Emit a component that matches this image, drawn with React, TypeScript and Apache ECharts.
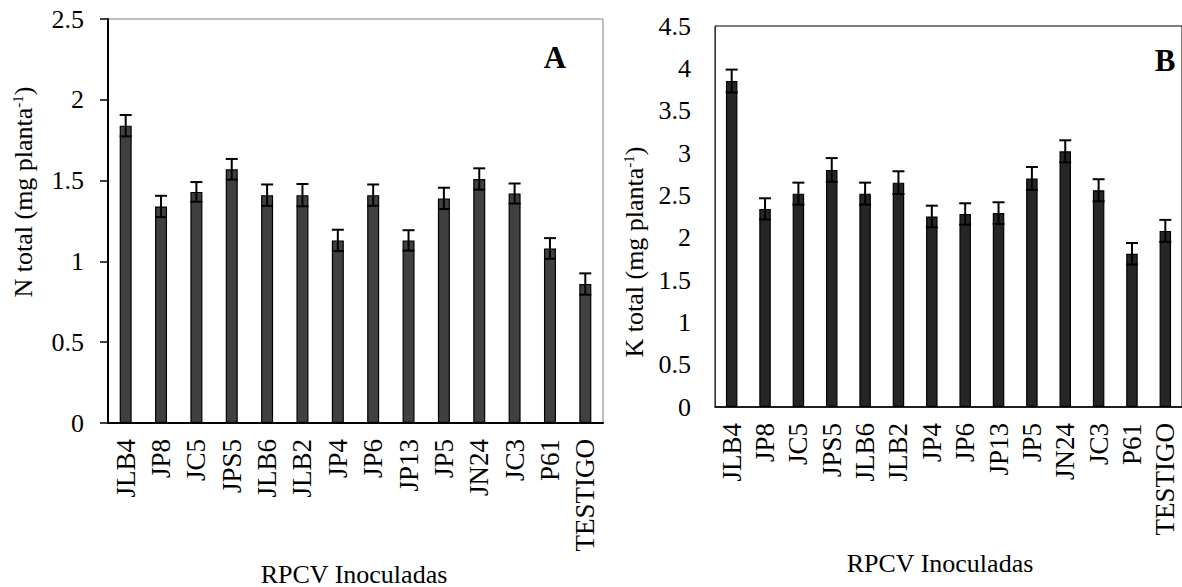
import React, { useEffect, useRef } from "react";
import * as echarts from "echarts";

const categories = ["JLB4", "JP8", "JC5", "JPS5", "JLB6", "JLB2", "JP4", "JP6", "JP13", "JP5", "JN24", "JC3", "P61", "TESTIGO"];
const nTotal = [1.84, 1.34, 1.43, 1.57, 1.41, 1.41, 1.13, 1.41, 1.13, 1.39, 1.51, 1.42, 1.08, 0.86];
const nErr = [0.066, 0.066, 0.061, 0.064, 0.066, 0.069, 0.066, 0.066, 0.063, 0.066, 0.066, 0.062, 0.064, 0.066];
const kTotal = [3.85, 2.34, 2.52, 2.8, 2.52, 2.65, 2.25, 2.28, 2.29, 2.7, 3.02, 2.56, 1.81, 2.08];
const kErr = [0.135, 0.125, 0.13, 0.14, 0.13, 0.134, 0.128, 0.126, 0.128, 0.135, 0.13, 0.13, 0.127, 0.13];

const FONT = "Liberation Serif";

function errRender(hw: number) {
  return (params: any, api: any) => {
    const x = api.value(0);
    const v = api.value(1);
    const e = api.value(2);
    const hi = api.coord([x, v + e]);
    const lo = api.coord([x, v - e]);
    const st = { stroke: "#000", lineWidth: 2 };
    return {
      type: "group",
      children: [
        { type: "line", shape: { x1: hi[0], y1: hi[1], x2: lo[0], y2: lo[1] }, style: st },
        { type: "line", shape: { x1: hi[0] - hw, y1: hi[1], x2: hi[0] + hw, y2: hi[1] }, style: st },
        { type: "line", shape: { x1: lo[0] - hw, y1: lo[1], x2: lo[0] + hw, y2: lo[1] }, style: st },
      ],
    };
  };
}

export default function App() {
  const ref = useRef<HTMLDivElement>(null);
  useEffect(() => {
    if (!ref.current) return;
    const chart = echarts.init(ref.current, null, { renderer: "svg" });
    const yLabel = { color: "#000", fontFamily: FONT, fontSize: 26 };
    const xLabel = { color: "#000", fontFamily: FONT, fontSize: 27, rotate: 90, interval: 0 };
    const titleRich = {
      a: { fontFamily: FONT, fontSize: 26, color: "#000" },
      s: { fontFamily: FONT, fontSize: 15, color: "#000", verticalAlign: "top", padding: [0, 0, 11, 0] },
    };
    chart.setOption({
      animation: false,
      textStyle: { fontFamily: FONT },
      grid: [
        { left: 108, top: 19, width: 495, height: 404, show: true, borderColor: "#7f7f7f", borderWidth: 1 },
        { left: 715, top: 26, width: 472, height: 381, show: true, borderColor: "#000", borderWidth: 1 },
      ],
      xAxis: [
        {
          type: "category", gridIndex: 0, data: categories,
          axisLine: { lineStyle: { color: "#000", width: 2 } },
          axisTick: { show: false },
          axisLabel: { ...xLabel, margin: 16 },
        },
        {
          type: "category", gridIndex: 1, data: categories,
          axisLine: { lineStyle: { color: "#000", width: 1.5 } },
          axisTick: { show: false },
          axisLabel: { ...xLabel, margin: 16 },
        },
      ],
      yAxis: [
        {
          type: "value", gridIndex: 0, min: 0, max: 2.5, interval: 0.5,
          splitLine: { show: false },
          axisLine: { show: true, lineStyle: { color: "#000", width: 2 } },
          axisTick: { show: true, length: 8, lineStyle: { color: "#000", width: 1.5 } },
          axisLabel: { ...yLabel, margin: 24 },
        },
        {
          type: "value", gridIndex: 1, min: 0, max: 4.5, interval: 0.5,
          splitLine: { show: false },
          axisLine: { show: true, lineStyle: { color: "#333", width: 1 } },
          axisTick: { show: false },
          axisLabel: { ...yLabel, margin: 24 },
        },
      ],
      series: [
        {
          type: "bar", xAxisIndex: 0, yAxisIndex: 0, data: nTotal, barWidth: 12,
          itemStyle: { color: "#404040", borderColor: "#000", borderWidth: 1.2 },
        },
        {
          type: "custom", xAxisIndex: 0, yAxisIndex: 0,
          data: categories.map((c, i) => [i, nTotal[i], nErr[i]]),
          encode: { x: 0, y: 1 }, renderItem: errRender(6), z: 5,
        },
        {
          type: "bar", xAxisIndex: 1, yAxisIndex: 1, data: kTotal, barWidth: 11.5,
          itemStyle: { color: "#262626", borderColor: "#000", borderWidth: 1.2 },
        },
        {
          type: "custom", xAxisIndex: 1, yAxisIndex: 1,
          data: categories.map((c, i) => [i, kTotal[i], kErr[i]]),
          encode: { x: 0, y: 1 }, renderItem: errRender(6), z: 5,
        },
      ],
      graphic: [
        {
          type: "text", x: 23, y: 192, rotation: Math.PI / 2,
          style: { text: "{a|N total (mg planta}{s|-1}{a|)}", rich: titleRich, align: "center", verticalAlign: "middle" },
        },
        {
          type: "text", x: 634, y: 252, rotation: Math.PI / 2,
          style: { text: "{a|K total (mg planta}{s|-1}{a|)}", rich: titleRich, align: "center", verticalAlign: "middle" },
        },
        {
          type: "text", x: 354, y: 574,
          style: { text: "RPCV Inoculadas", fontFamily: FONT, fontSize: 26, fill: "#000", align: "center", verticalAlign: "middle" },
        },
        {
          type: "text", x: 940, y: 563,
          style: { text: "RPCV Inoculadas", fontFamily: FONT, fontSize: 26, fill: "#000", align: "center", verticalAlign: "middle" },
        },
        {
          type: "text", x: 555, y: 57,
          style: { text: "A", fontFamily: FONT, fontSize: 31, fontWeight: "bold", fill: "#000", align: "center", verticalAlign: "middle" },
        },
        {
          type: "text", x: 1165, y: 60,
          style: { text: "B", fontFamily: FONT, fontSize: 31, fontWeight: "bold", fill: "#000", align: "center", verticalAlign: "middle" },
        },
      ],
    });
    return () => chart.dispose();
  }, []);
  return <div ref={ref} style={{ position: "absolute", left: 0, top: 0, width: 1182, height: 587, background: "#fff" }} />;
}
